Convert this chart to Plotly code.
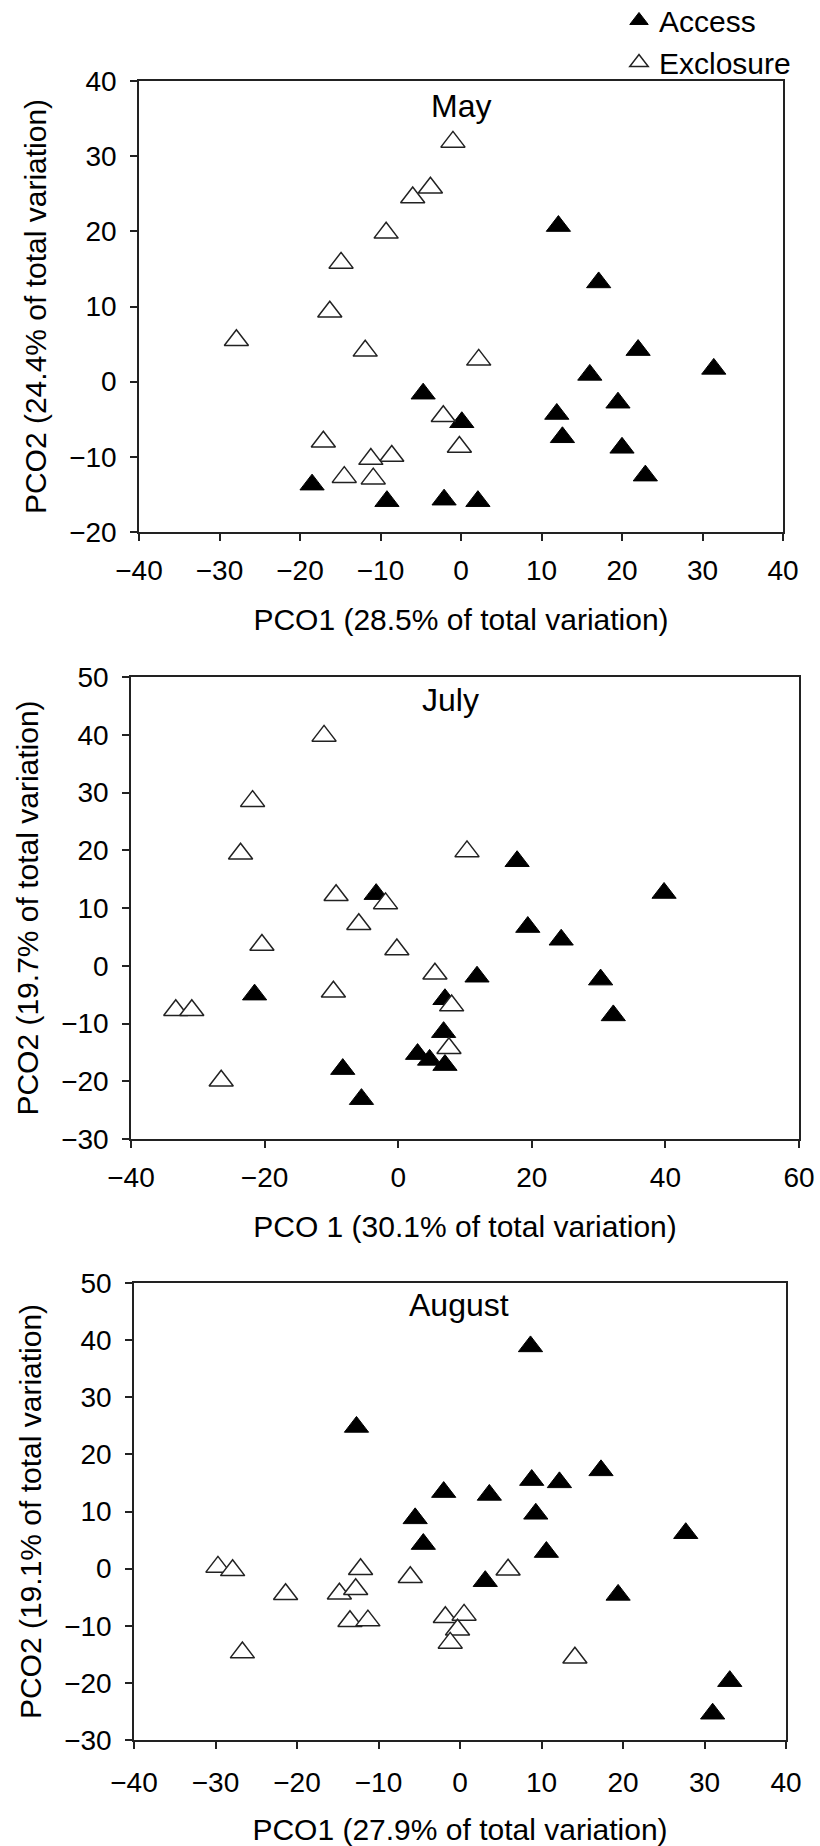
import plotly.graph_objects as go

# ---------------- data ----------------
may_access_x = [12.1, 17.1, 22.0, 31.4, 16.0, -4.7, 19.5, 11.9, 0.1, 12.6, 20.0, 22.9, -18.5, -9.2, -2.1, 2.1]
may_access_y = [20.7, 13.2, 4.2, 1.7, 0.9, -1.6, -2.8, -4.3, -5.4, -7.4, -8.8, -12.5, -13.7, -15.9, -15.7, -15.9]
may_excl_x = [-1.0, -3.8, -6.0, -9.3, -14.9, -16.3, -27.9, -11.9, 2.2, -2.2, -0.2, -17.1, -8.6, -11.2, -14.5, -10.9]
may_excl_y = [31.9, 25.8, 24.5, 19.8, 15.8, 9.3, 5.5, 4.1, 2.9, -4.6, -8.7, -8.0, -9.9, -10.3, -12.7, -12.9]

jul_access_x = [17.8, 39.8, -3.3, 19.4, 24.4, 11.8, 30.3, -21.5, 7.0, 32.2, 6.8, 2.9, 4.7, 7.0, -8.3, -5.5]
jul_access_y = [18.1, 12.6, 12.4, 6.7, 4.5, -1.9, -2.4, -5.0, -5.8, -8.6, -11.5, -15.3, -16.3, -17.2, -17.9, -23.1]
jul_excl_x = [-11.1, -21.8, -23.6, 10.3, -9.3, -1.9, -5.9, -20.4, -0.2, 5.5, -9.7, -33.3, -30.9, 8.0, 7.6, -26.5]
jul_excl_y = [39.8, 28.5, 19.4, 19.8, 12.2, 10.8, 7.2, 3.6, 2.8, -1.4, -4.5, -7.7, -7.7, -6.9, -14.3, -19.9]

aug_access_x = [8.65, -12.7, 17.3, 8.8, 12.2, -2.0, 3.6, -5.5, 9.3, 27.7, -4.5, 10.6, 3.1, 19.4, 33.1, 31.0]
aug_access_y = [38.9, 24.8, 17.2, 15.5, 15.1, 13.4, 12.9, 8.8, 9.6, 6.2, 4.3, 2.9, -2.2, -4.6, -19.7, -25.4]
aug_excl_x = [-29.7, -27.9, -12.2, 5.9, -6.1, -21.4, -14.8, -12.8, -13.5, -11.3, -1.8, 0.5, -0.3, -1.2, -26.7, 14.1]
aug_excl_y = [0.3, -0.3, -0.1, -0.2, -1.5, -4.5, -4.4, -3.6, -9.2, -9.1, -8.5, -8.1, -10.7, -13.0, -14.7, -15.6]

months = ["May", "July", "August"]
x_titles = ["PCO1 (28.5% of total variation)", "PCO 1 (30.1% of total variation)", "PCO1 (27.9% of total variation)"]
y_titles = ["PCO2 (24.4% of total variation)", "PCO2 (19.7% of total variation)", "PCO2 (19.1% of total variation)"]
x_ranges = [[-40, 40], [-40, 60], [-40, 40]]
y_ranges = [[-20, 40], [-30, 50], [-30, 50]]
x_dtick = [10, 20, 10]
y_dtick = [10, 10, 10]

# ---------------- layout geometry ----------------
W, H = 820, 1846
boxes = [  # left, right, top, bottom in px
    (139, 783, 81, 532),
    (131, 799, 677, 1139),
    (134, 786, 1283, 1740),
]
title_pos = [(0.50, 0.945), (0.478, 0.950), (0.498, 0.952)]
x_title_standoff = [24, 24, 28]
x_label_standoff = [6, 6, 10]

FONT = "Liberation Sans, Arial, sans-serif"
fig = go.Figure()

data = [
    (may_access_x, may_access_y, may_excl_x, may_excl_y),
    (jul_access_x, jul_access_y, jul_excl_x, jul_excl_y),
    (aug_access_x, aug_access_y, aug_excl_x, aug_excl_y),
]

for i, (ax_, ay_, ex_, ey_) in enumerate(data):
    sfx = "" if i == 0 else str(i + 1)
    fig.add_trace(go.Scatter(
        x=ax_, y=ay_, mode="markers", name="Access",
        xaxis="x" + sfx, yaxis="y" + sfx, showlegend=(i == 0), legendgroup="a",
        marker=dict(symbol="triangle-up", size=21, color="black",
                    line=dict(color="black", width=1)),
    ))
    fig.add_trace(go.Scatter(
        x=ex_, y=ey_, mode="markers", name="Exclosure",
        xaxis="x" + sfx, yaxis="y" + sfx, showlegend=(i == 0), legendgroup="e",
        marker=dict(symbol="triangle-up", size=21, color="white",
                    line=dict(color="#222", width=1.5)),
    ))

layout = dict(
    width=W, height=H, margin=dict(l=0, r=0, t=0, b=0, autoexpand=False),
    paper_bgcolor="white", plot_bgcolor="white",
    font=dict(family=FONT, size=28, color="black"),
    showlegend=True,
    legend=dict(x=796 / W, xanchor="right", y=1.003, yanchor="top",
                font=dict(size=30), bgcolor="rgba(0,0,0,0)", tracegroupgap=0,
                itemsizing="trace"),
)
annotations = []
for i in range(3):
    l, r, t, b = boxes[i]
    sfx = "" if i == 0 else str(i + 1)
    xk = "xaxis" + sfx
    yk = "yaxis" + sfx
    layout[xk] = dict(
        domain=[l / W, r / W], anchor="y" + sfx, range=x_ranges[i],
        dtick=x_dtick[i], tick0=0, showgrid=False, zeroline=False,
        showline=True, linecolor="#222", linewidth=1.5, mirror=True,
        ticks="outside", ticklen=7, tickwidth=1.5, tickcolor="#222",
        tickfont=dict(size=28), ticklabelstandoff=x_label_standoff[i], automargin=False,
        title=dict(text=x_titles[i], font=dict(size=30), standoff=x_title_standoff[i]),
    )
    layout[yk] = dict(
        domain=[1 - b / H, 1 - t / H], anchor="x" + sfx, range=y_ranges[i],
        dtick=y_dtick[i], tick0=0, showgrid=False, zeroline=False,
        showline=True, linecolor="#222", linewidth=1.5, mirror=True,
        ticks="outside", ticklen=7, tickwidth=1.5, tickcolor="#222",
        tickfont=dict(size=28), ticklabelstandoff=8, automargin=False,
        title=dict(text=y_titles[i], font=dict(size=30), standoff=14),
    )
    tx, ty = title_pos[i]
    annotations.append(dict(
        text=months[i], x=tx, y=ty, xref="x" + sfx + " domain", yref="y" + sfx + " domain",
        showarrow=False, font=dict(size=32), xanchor="center", yanchor="middle",
    ))
layout["annotations"] = annotations
fig.update_layout(**layout)

fig.write_html("out.html")
